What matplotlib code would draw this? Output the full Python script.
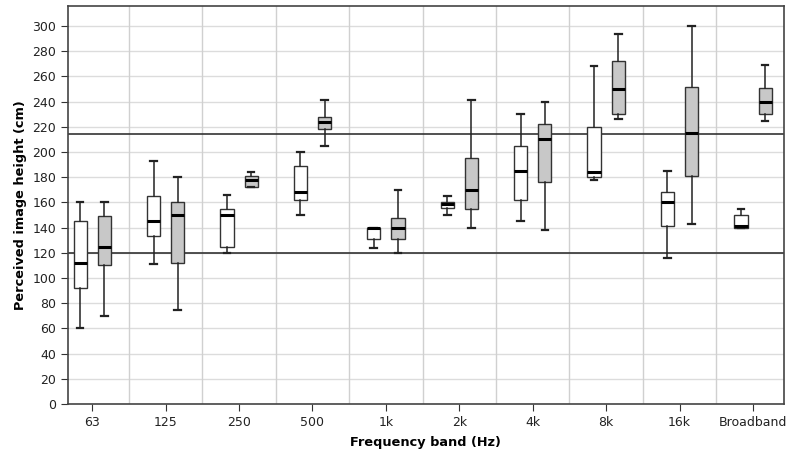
import numpy as np
import matplotlib
matplotlib.use("Agg")
import matplotlib.pyplot as plt

# frequency bands on the x axis
bands = ["63", "125", "250", "500", "1k", "2k", "4k", "8k", "16k", "Broadband"]

# white boxes: lower whisker, Q1, median, Q3, upper whisker (cm)
white_lo  = [60, 111, 120, 150, 124, 150, 145, 178, 116, 140]
white_q1  = [92, 133, 125, 162, 131, 156, 162, 180, 141, 140]
white_med = [112, 145, 150, 168, 140, 159, 185, 184, 160, 141]
white_q3  = [145, 165, 155, 189, 140, 160, 205, 220, 168, 150]
white_hi  = [160, 193, 166, 200, 140, 165, 230, 268, 185, 155]

# grey boxes
grey_lo  = [70, 75, 172, 205, 120, 140, 138, 226, 143, 225]
grey_q1  = [110, 112, 172, 218, 131, 155, 176, 230, 181, 230]
grey_med = [125, 150, 178, 224, 140, 170, 210, 250, 215, 240]
grey_q3  = [149, 160, 181, 228, 148, 195, 222, 272, 252, 251]
grey_hi  = [160, 180, 184, 241, 170, 241, 240, 294, 300, 269]

ref_lines = [214, 120]


def stats(lo, q1, med, q3, hi):
    return [dict(whislo=a, q1=b, med=c, q3=d, whishi=e, fliers=[])
            for a, b, c, d, e in zip(lo, q1, med, q3, hi)]


fig = plt.figure(figsize=(7.87, 4.54), dpi=100)
ax = fig.add_axes([0.0864, 0.110, 0.9096, 0.877])

x = np.arange(len(bands))
off = 0.165
w = 0.18

ax.set_xlim(-0.33, len(bands) - 1 + 0.42)
ax.set_ylim(0, 316)

# grid
for yv in range(0, 301, 20):
    ax.axhline(yv, color="#dcdcdc", lw=1, zorder=0)
for xv in x[:-1] + 0.5:
    ax.axvline(xv, color="#d0d0d0", lw=1, zorder=0)

for yv in ref_lines:
    ax.axhline(yv, color="#333333", lw=1.2, zorder=1)

common = dict(widths=w, showfliers=False, patch_artist=True,
              whiskerprops=dict(color="#222222", lw=1.1),
              capprops=dict(color="#222222", lw=1.6),
              medianprops=dict(color="black", lw=2.2, solid_capstyle="butt"),
              manage_ticks=False)
ax.bxp(stats(white_lo, white_q1, white_med, white_q3, white_hi), positions=x - off,
       boxprops=dict(facecolor="white", edgecolor="#333333", lw=1), **common)
ax.bxp(stats(grey_lo, grey_q1, grey_med, grey_q3, grey_hi), positions=x + off,
       boxprops=dict(facecolor="#c8c8c8", edgecolor="#333333", lw=1), **common)

ax.set_xticks(x)
ax.set_xticklabels(bands)
ax.set_yticks(range(0, 301, 20))
ax.tick_params(axis="both", labelsize=9, length=5, color="#333333", labelcolor="#222222")

for s in ax.spines.values():
    s.set_color("#444444")
    s.set_linewidth(1.2)

ax.set_xlabel("Frequency band (Hz)", fontsize=9.3, fontweight="bold", labelpad=5)
ax.set_ylabel("Perceived image height (cm)", fontsize=9.3, fontweight="bold", labelpad=4)

fig.savefig("out.png", dpi=100)
